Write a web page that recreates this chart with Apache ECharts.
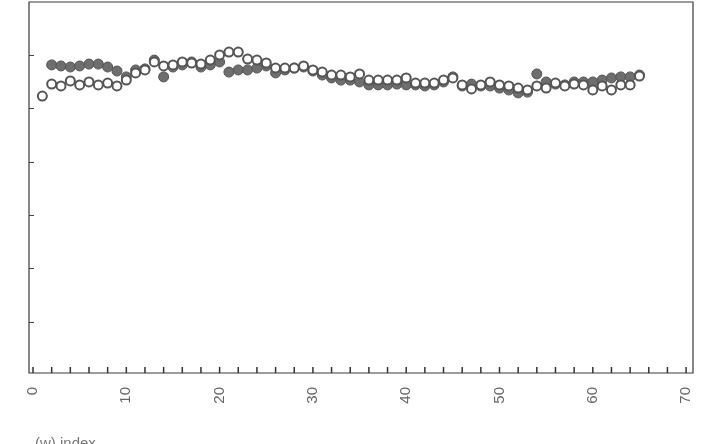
<!DOCTYPE html>
<html>
<head>
<meta charset="utf-8">
<script src="https://cdn.jsdelivr.net/npm/echarts@6/dist/echarts.min.js"></script>
<style>html,body{margin:0;padding:0;background:#fff}#c{width:704px;height:444px}</style>
</head>
<body>
<div id="c"></div>
<script>
// index values
const hollowX = [];
for (let i = 1; i <= 65; i++) hollowX.push(i);
const filledX = [];
for (let i = 2; i <= 65; i++) filledX.push(i);

const hollowY = [0.846,0.891,0.884,0.903,0.888,0.899,0.888,0.895,0.884,0.906,
  0.933,0.944,0.974,0.959,0.963,0.974,0.970,0.966,0.981,1.000,
  1.011,1.011,0.985,0.981,0.970,0.951,0.951,0.951,0.959,0.944,
  0.936,0.925,0.925,0.918,0.929,0.906,0.906,0.906,0.906,0.914,
  0.895,0.895,0.895,0.906,0.914,0.888,0.873,0.888,0.899,0.888,
  0.884,0.876,0.869,0.884,0.876,0.895,0.884,0.891,0.888,0.869,
  0.884,0.869,0.888,0.888,0.921];

const filledY = [0.963,0.959,0.955,0.959,0.966,0.966,0.955,0.940,0.918,
  0.944,0.948,0.981,0.918,0.955,0.963,0.974,0.955,0.963,0.974,
  0.936,0.944,0.944,0.951,0.959,0.933,0.944,0.951,0.955,0.940,
  0.925,0.914,0.906,0.906,0.899,0.888,0.888,0.888,0.891,0.888,
  0.888,0.884,0.888,0.899,0.918,0.884,0.891,0.884,0.884,0.876,
  0.869,0.858,0.861,0.929,0.899,0.891,0.888,0.899,0.899,0.899,
  0.906,0.914,0.918,0.918,0.925];

const xTickLabels = [0,10,20,30,40,50,60,70];
const xMinorTicks = [];
for (let i = 0; i <= 70; i += 2) xMinorTicks.push(i);
const yTicks = [0,0.2,0.4,0.6,0.8,1.0];
const xTitle = '(w) index';

const X_MIN = -0.43, X_MAX = 70.74, Y_MIN = -0.191, Y_MAX = 1.1985;

const chart = echarts.init(document.getElementById('c'), null, {renderer:'canvas'});
chart.setOption({
  animation:false,
  backgroundColor:'#ffffff',
  grid:{left:29,right:11,top:2,bottom:71,show:true,borderColor:'#3a3a3a',borderWidth:1.2,backgroundColor:'transparent'},
  xAxis:{type:'value',min:X_MIN,max:X_MAX,position:'bottom',
    axisLine:{show:false,onZero:false},
    splitLine:{show:false},
    axisTick:{show:false},
    axisLabel:{show:true,customValues:xTickLabels,rotate:90,margin:14,fontSize:15,color:'#666',fontFamily:'Liberation Sans, Arial, sans-serif'}
  },
  yAxis:{type:'value',min:Y_MIN,max:Y_MAX,position:'left',
    axisLine:{show:false,onZero:false},
    splitLine:{show:false},
    axisTick:{show:true,inside:true,length:5,customValues:yTicks,lineStyle:{color:'#444',width:1}},
    axisLabel:{show:false}
  },
  graphic:[{type:'text',left:35,top:436,style:{text:xTitle,fontSize:15,fill:'#777',fontFamily:'Liberation Sans, Arial, sans-serif'}}],
  series:[
    {type:'scatter',silent:true,clip:false,symbol:'rect',symbolSize:[1.5,6],symbolOffset:[0,-3],
      data:xMinorTicks.map(v=>[v,Y_MIN]),
      itemStyle:{color:'#333',opacity:1},z:5},
    {type:'scatter',symbol:'circle',symbolSize:10,
      data:filledX.map((x,i)=>[x,filledY[i]]),
      itemStyle:{color:'#6e6e6e',borderColor:'#555',borderWidth:1,opacity:1},z:2},
    {type:'scatter',symbol:'circle',symbolSize:9,
      data:hollowX.map((x,i)=>[x,hollowY[i]]),
      itemStyle:{color:'#ffffff',borderColor:'#555',borderWidth:2,opacity:1},z:3}
  ]
});
</script>
</body>
</html>
